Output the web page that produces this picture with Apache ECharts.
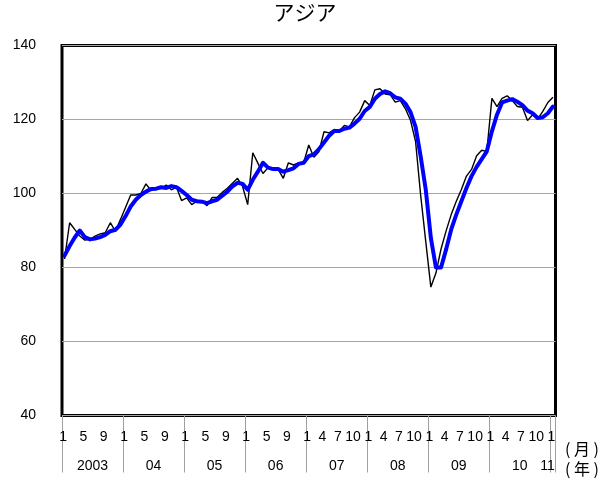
<!DOCTYPE html>
<html>
<head>
<meta charset="utf-8">
<script src="https://cdn.jsdelivr.net/npm/echarts@6/dist/echarts.min.js"></script>
<style>
html,body{margin:0;padding:0;background:#fff;}
#chart{width:610px;height:484px;}
</style>
</head>
<body>
<div id="chart"></div>
<script>
// ---- data ----
const startYear = 2003;
const monthCount = 97; // Jan 2003 .. Jan 2011
const yearLabels = ['2003', '04', '05', '06', '07', '08', '09', '10', '11'];
const monthTicksEarly = [1, 5, 9];      // 2003-2006
const monthTicksLate = [1, 4, 7, 10];   // 2007-2011
const yTicks = [40, 60, 80, 100, 120, 140];

// black thin line (monthly values)
const actual = [
  82.3, 92.1, 90.3, 88.5, 87.4, 87.6, 88.5, 89.1, 89.4, 92.1, 89.8, 93.0,
  96.3, 99.6, 99.6, 100.0, 102.6, 100.8, 101.4, 101.4, 102.3, 101.0, 101.7, 98.1,
  98.8, 97.0, 97.9, 98.0, 96.7, 98.9, 99.0, 100.3, 101.4, 102.8, 104.1, 101.9,
  97.0, 111.0, 108.2, 105.4, 107.0, 107.0, 106.5, 104.1, 108.3, 107.7, 108.3, 108.3,
  113.1, 109.8, 111.3, 116.7, 116.4, 117.3, 116.9, 118.4, 118.0, 120.5, 122.0, 125.1,
  123.8, 128.0, 128.3, 126.9, 126.7, 124.7, 125.1, 122.9, 119.8, 114.0, 99.5, 87.0,
  74.7, 78.5, 85.0, 89.9, 94.3, 97.9, 101.1, 104.7, 106.5, 110.2, 111.7, 111.4,
  125.7, 123.5, 125.7, 126.4, 125.1, 123.5, 123.3, 119.7, 121.3, 120.1, 122.2, 124.6,
  126.0
];

// blue thick line (trend)
const trend = [
  83.2, 85.8, 88.1, 90.0, 88.2, 87.6, 87.8, 88.2, 88.8, 89.8, 90.2, 91.6,
  93.9, 96.5, 98.3, 99.6, 100.5, 101.2, 101.3, 101.7, 101.5, 102.0, 101.7, 100.7,
  99.6, 98.3, 97.9, 97.8, 97.4, 97.9, 98.3, 99.4, 100.5, 101.9, 102.9, 102.6,
  101.0, 103.7, 105.9, 108.3, 107.0, 106.6, 106.6, 105.9, 106.3, 106.8, 108.0, 108.3,
  110.1, 110.6, 112.0, 113.8, 115.6, 116.9, 116.9, 117.5, 117.8, 118.9, 120.2, 122.3,
  123.4, 125.6, 126.9, 127.6, 127.1, 126.0, 125.6, 124.3, 122.0, 118.0, 110.0, 101.0,
  88.0, 80.0, 80.0, 84.9, 90.3, 94.3, 97.9, 101.5, 104.7, 107.2, 109.3, 111.4,
  116.8, 121.3, 124.6, 125.1, 125.5, 124.8, 123.9, 122.4, 121.7, 120.4, 120.6, 121.7,
  123.5
];

// ---- build categories ----
const categories = [];
for (let i = 0; i < monthCount; i++) {
  categories.push((startYear + Math.floor(i / 12)) + '/' + (i % 12 + 1));
}
function monthOf(i) { return i % 12 + 1; }
function yearIdx(i) { return Math.floor(i / 12); }
function showMonth(i) {
  const list = yearIdx(i) < 4 ? monthTicksEarly : monthTicksLate;
  return list.indexOf(monthOf(i)) >= 0;
}
function showYear(i) {
  if (i === monthCount - 1 && monthOf(i) === 1) return true;
  return monthOf(i) === 6 && i + 6 < monthCount;
}

const FONT = '"Liberation Sans", Arial, sans-serif';
const CJK = '"Noto Sans CJK JP", sans-serif';
const chart = echarts.init(document.getElementById('chart'), null, {renderer: 'canvas'});
chart.setOption({
  animation: false,
  backgroundColor: '#fff',
  title: [
    {text: 'アジア', left: 'center', top: 2, padding: 0,
     textStyle: {fontFamily: CJK, fontSize: 21, fontWeight: 'normal', color: '#000'}},
    {text: '( 月 )', left: 565, top: 441, padding: 0,
     textStyle: {fontFamily: CJK, fontSize: 16, fontWeight: 'normal', color: '#000'}},
    {text: '( 年 )', left: 565, top: 461, padding: 0,
     textStyle: {fontFamily: CJK, fontSize: 16, fontWeight: 'normal', color: '#000'}}
  ],
  grid: {
    left: 62, right: 54.5, top: 45.5, bottom: 68.5,
    show: true, borderColor: '#000', borderWidth: 3, backgroundColor: 'transparent'
  },
  xAxis: [
    {
      type: 'category', data: categories, boundaryGap: true, position: 'bottom',
      axisLine: {show: false},
      axisTick: {
        show: true, inside: false, length: 57, alignWithLabel: false,
        interval: function (i) { return monthOf(i) === 1; },
        lineStyle: {color: '#a0a0a0', width: 1}
      },
      axisLabel: {
        show: true, margin: 15,
        interval: function (i) { return showMonth(i); },
        formatter: function (v, i) { return '{m|' + monthOf(i) + '}'; },
        rich: {m: {fontFamily: FONT, fontSize: 14, color: '#000', padding: [0, 3, 0, 0]}}
      },
      splitLine: {show: false}
    },
    {
      type: 'category', data: categories, boundaryGap: true, position: 'bottom', gridIndex: 0,
      axisLine: {show: false}, axisTick: {show: false},
      axisLabel: {
        show: true, margin: 44,
        interval: function (i) { return showYear(i); },
        formatter: function (v, i) {
          const t = yearLabels[yearIdx(i)];
          return i === monthCount - 1 ? '{e|' + t + '}' : '{y|' + t + '}';
        },
        rich: {
          y: {fontFamily: FONT, fontSize: 14, color: '#000', padding: [0, 0, 0, 5]},
          e: {fontFamily: FONT, fontSize: 14, color: '#000', padding: [0, 11, 0, 0]}
        }
      },
      splitLine: {show: false}
    }
  ],
  yAxis: {
    type: 'value', min: yTicks[0], max: yTicks[yTicks.length - 1], interval: 20,
    axisLine: {show: false}, axisTick: {show: false},
    axisLabel: {margin: 26, fontFamily: FONT, fontSize: 14, color: '#000', padding: [3, 0, 0, 0]},
    splitLine: {show: true, lineStyle: {color: '#a6a6a6', width: 1}}
  },
  series: [
    {
      name: 'actual', type: 'line', data: actual, xAxisIndex: 0,
      symbol: 'none', smooth: false,
      lineStyle: {color: '#000', width: 1.4}, z: 2
    },
    {
      name: 'trend', type: 'line', data: trend, xAxisIndex: 0,
      symbol: 'none', smooth: false,
      lineStyle: {color: '#0000ff', width: 4, join: 'round', cap: 'round'}, z: 3
    }
  ]
});
</script>
</body>
</html>
